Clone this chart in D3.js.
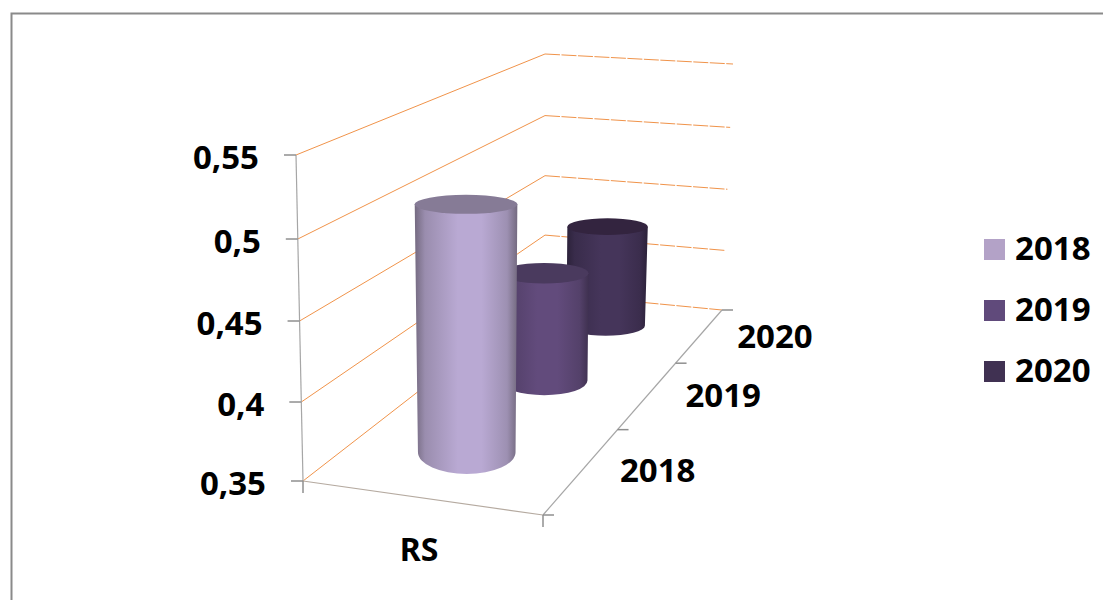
<!DOCTYPE html>
<html>
<head>
<meta charset="utf-8">
<script src="https://cdn.jsdelivr.net/npm/d3@7/dist/d3.min.js"></script>
<style>
html,body{margin:0;padding:0;background:#fff;overflow:hidden}
text{font-family:"Noto Sans",sans-serif;font-weight:700;fill:#000}
</style>
</head>
<body>
<script>
// Chart data
const categories = ["RS"];
const seriesNames = ["2018", "2019", "2020"];
const seriesValues = [0.51, 0.43, 0.43];
const yTicks = [0.35, 0.4, 0.45, 0.5, 0.55];
const yTickLabels = ["0,35", "0,4", "0,45", "0,5", "0,55"];
const seriesColors = [
  {legend: "#b3a2c7", mid: "#b9a9d3", edge: "#746a80", top: "#867b96"},
  {legend: "#604a7b", mid: "#624b7c", edge: "#3f3150", top: "#4a3a5e"},
  {legend: "#403152", mid: "#45355a", edge: "#2b2139", top: "#33243f"}
];

const width = 1103, height = 600;
const svg = d3.select("body").append("svg").attr("width", width).attr("height", height);

// Homography from the unit square to a screen-space quad [front-left, front-right, back-right, back-left]
function planeMap(q) {
  const [[x0, y0], [x1, y1], [x2, y2], [x3, y3]] = q;
  const dx1 = x1 - x2, dx2 = x3 - x2, dx3 = x0 - x1 + x2 - x3;
  const dy1 = y1 - y2, dy2 = y3 - y2, dy3 = y0 - y1 + y2 - y3;
  const den = dx1 * dy2 - dx2 * dy1;
  const g = (dx3 * dy2 - dx2 * dy3) / den, h = (dx1 * dy3 - dx3 * dy1) / den;
  const a = x1 - x0 + g * x1, b = x3 - x0 + h * x3, d = y1 - y0 + g * y1, e = y3 - y0 + h * y3;
  return (u, v) => {
    const w = g * u + h * v + 1;
    return [(a * u + b * v + x0) / w, (d * u + e * v + y0) / w];
  };
}

const floorPlane = planeMap([[303, 481], [543, 515], [722, 310], [545, 293]]);
const ceilingPlane = planeMap([[296, 155], [543, 165], [733, 64], [545, 54]]);

// Fraction of the wall height for a value; the ticks spread slightly toward the top
const yScale = d3.scaleLinear().domain(yTicks).range([0, 0.2423, 0.4908, 0.7423, 1]);
const xScale = d3.scaleBand().domain(categories).range([0, 1]);
const zScale = d3.scaleBand().domain(seriesNames).range([0, 1]);

function project(u, v, value) {
  const t = yScale(value), a = floorPlane(u, v), b = ceilingPlane(u, v);
  return [a[0] + (b[0] - a[0]) * t, a[1] + (b[1] - a[1]) * t];
}

// Chart frame: top and left edges only, the right and bottom run off the page
svg.append("path").attr("d", `M11.5,600V13.5H${width}`)
  .attr("fill", "none").attr("stroke", "#8a8a8a").attr("stroke-width", 2);

// Orange gridlines: solid across the left wall, finely broken across the back wall
const grid = svg.append("g").attr("fill", "none").attr("stroke", "#f0934a").attr("stroke-width", 1);
grid.selectAll(".left").data(yTicks).join("path").attr("class", "left")
  .attr("d", v => d3.line()([project(0, 0, v), project(0, 1, v)]));
grid.selectAll(".back").data(yTicks).join("path").attr("class", "back")
  .attr("stroke-dasharray", "15 1.5")
  .attr("d", v => d3.line()([project(0, 1, v), project(1, 1, v)]));

// Axis lines
const axisStroke = "#a6a6a6";
const axes = svg.append("g").attr("fill", "none").attr("stroke", axisStroke).attr("stroke-width", 1.2);
axes.append("path").attr("d", d3.line()([project(0, 0, 0.35), project(0, 0, 0.55)]));
axes.append("path").attr("d", d3.line()([project(0, 0, 0.35), project(1, 0, 0.35)])).attr("stroke", "#b5aaa0");
axes.append("path").attr("d", d3.line()([project(1, 0, 0.35), project(1, 1, 0.35)]));

// Value-axis ticks and labels
axes.selectAll(".ytick").data(yTicks).join("path").attr("class", "ytick")
  .attr("stroke", "#8f8f8f").attr("stroke-width", 1.5)
  .attr("d", v => { const [x, y] = project(0, 0, v); return `M${x - 12},${y}H${x}`; });
svg.append("g").selectAll("text").data(yTicks).join("text")
  .attr("text-anchor", "end").attr("font-size", 33)
  .attr("x", v => project(0, 0, v)[0] - 37)
  .attr("y", v => project(0, 0, v)[1] + 14)
  .text((v, i) => yTickLabels[i]);

// Tick marks along the floor edges
const floorTicks = [0, 1];
axes.selectAll(".xtick").data(floorTicks).join("path").attr("class", "xtick")
  .attr("stroke", "#8f8f8f").attr("stroke-width", 1.5)
  .attr("d", u => { const [x, y] = project(u, 0, 0.35); return `M${x},${y}V${y + 12}`; });
const depthEdges = [0, 1, 2, 3].map(i => i / 3);
axes.selectAll(".ztick").data(depthEdges).join("path").attr("class", "ztick")
  .attr("stroke", "#8f8f8f").attr("stroke-width", 1.5)
  .attr("d", v => { const [x, y] = project(1, v, 0.35); return `M${x},${y}H${x + 11}`; });

// Category and series labels on the floor edges
svg.append("text").attr("text-anchor", "middle").attr("font-size", 32)
  .attr("x", project(xScale("RS") + xScale.bandwidth() / 2, 0, 0.35)[0] - 1)
  .attr("y", 561).text(categories[0]);
svg.append("g").selectAll("text").data(seriesNames).join("text")
  .attr("text-anchor", "middle").attr("font-size", 33)
  .attr("x", s => project(1, zScale(s) + zScale.bandwidth() / 2, 0.35)[0] + 75)
  .attr("y", s => project(1, zScale(s) + zScale.bandwidth() / 2, 0.35)[1] + 13)
  .text(s => s);

// Horizontal shading for the cylinder sides
const defs = svg.append("defs");
seriesNames.forEach((s, i) => {
  const c = seriesColors[i];
  const g = defs.append("linearGradient").attr("id", "side" + s);
  g.selectAll("stop").data([[0, c.edge], [0.1, d3.interpolateRgb(c.edge, c.mid)(0.55)], [0.42, c.mid], [0.65, c.mid], [0.9, d3.interpolateRgb(c.edge, c.mid)(0.6)], [1, c.edge]])
    .join("stop").attr("offset", d => d[0]).attr("stop-color", d => d[1]);
});

// Ellipse outline of a cylinder cap at a value level
const capRadius = 0.155;
function cap(u, v, value) {
  const [cx, cy] = project(u, v, value);
  const base = project(u, v, 0.35), top = project(u, v, 0.55);
  // Caps higher up sit closer to the viewer, so they read slightly wider
  const rx = Math.hypot(top[0] - base[0], top[1] - base[1]) * capRadius * (1 + 0.065 * yScale(value));
  const dz = 0.1;
  const near = project(u, v - dz, value), far = project(u, v + dz, value);
  const raw = Math.abs(near[1] - far[1]) * 0.5 * 0.66;
  // Caps low in the foreground open up faster than the plane foreshortening alone
  const ry = raw + Math.max(0, raw - 10.5) * 1.0;
  return {cx, cy: cy - (raw > 10.5 ? 2 : 0), rx, ry};
}

// Cylinders, back row first so nearer ones overlap
const order = d3.range(seriesNames.length).reverse();
const bars = svg.append("g").selectAll("g").data(order).join("g");
bars.each(function (i) {
  const s = seriesNames[i], c = seriesColors[i];
  const u = xScale("RS") + xScale.bandwidth() / 2, v = zScale(s) + zScale.bandwidth() / 2;
  const b = cap(u, v, 0.35), t = cap(u, v, seriesValues[i]);
  const g = d3.select(this);
  g.append("path")
    .attr("d", `M${t.cx - t.rx},${t.cy}L${b.cx - b.rx},${b.cy}A${b.rx},${b.ry} 0 0 0 ${b.cx + b.rx},${b.cy}L${t.cx + t.rx},${t.cy}Z`)
    .attr("fill", `url(#side${s})`);
  g.append("ellipse").attr("cx", t.cx).attr("cy", t.cy).attr("rx", t.rx).attr("ry", t.ry).attr("fill", c.top);
});

// Legend
const legend = svg.append("g").selectAll("g").data(seriesNames).join("g")
  .attr("transform", (s, i) => `translate(984,${239 + i * 61})`);
legend.append("rect").attr("width", 21).attr("height", 21).attr("fill", (s, i) => seriesColors[i].legend);
legend.append("text").attr("x", 31).attr("y", 21).attr("font-size", 33).text(s => s);
</script>
</body>
</html>
